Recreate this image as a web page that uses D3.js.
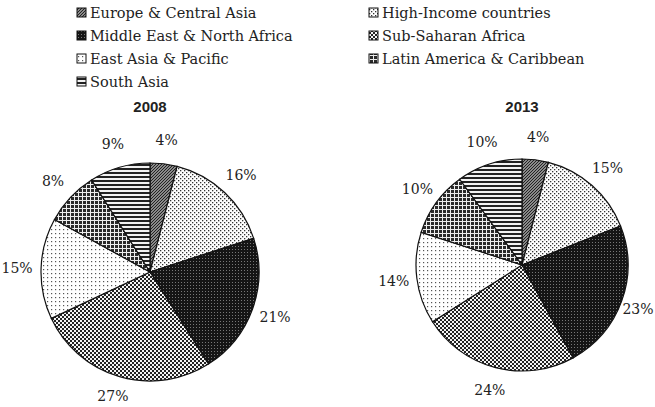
<!DOCTYPE html>
<html>
<head>
<meta charset="utf-8">
<script src="https://cdn.jsdelivr.net/npm/d3@7"></script>
<style>
  body { margin: 0; background: #fff; }
  svg { display: block; }
</style>
</head>
<body>
<script>
// regions in clockwise order from 12 o'clock (same order as the legend, row by row)
var regions = ["Europe & Central Asia", "High-Income countries", "Middle East & North Africa",
               "Sub-Saharan Africa", "East Asia & Pacific", "Latin America & Caribbean", "South Asia"];
var values2008 = [4, 16, 21, 27, 15, 8, 9];
var values2013 = [4, 15, 23, 24, 14, 10, 10];
var years = ["2008", "2013"];

var width = 655;
var height = 407;

var svg = d3.select("body")
            .append("svg")
            .attr("width", width)
            .attr("height", height);

var defs = svg.append("defs");

// builds a small tiled pattern for every region
function makePattern(id, size, bg, draw) {
  var p = defs.append("pattern")
              .attr("id", id)
              .attr("patternUnits", "userSpaceOnUse")
              .attr("width", size[0])
              .attr("height", size[1]);
  p.append("rect")
   .attr("width", size[0])
   .attr("height", size[1])
   .attr("fill", bg);
  draw(p);
}

var patternIds = ["p0", "p1", "p2", "p3", "p4", "p5", "p6"];

// europe: dense diagonal hatch
makePattern("p0", [3, 3], "#8a8a8a", function(p) {
  p.append("path").attr("d", "M0,3 L3,0").attr("stroke", "#222").attr("stroke-width", 1);
});
// high-income: fine dots
makePattern("p1", [4, 4], "#fff", function(p) {
  p.append("rect").attr("x", 0).attr("y", 0).attr("width", 1.3).attr("height", 1.3).attr("fill", "#333");
  p.append("rect").attr("x", 2).attr("y", 2).attr("width", 1.3).attr("height", 1.3).attr("fill", "#333");
});
// middle east: near black with grey dots
makePattern("p2", [3, 3], "#151515", function(p) {
  p.append("rect").attr("x", 1).attr("y", 1).attr("width", 1).attr("height", 1).attr("fill", "#777");
});
// sub-saharan: checkerboard
makePattern("p3", [4, 4], "#f4f4f4", function(p) {
  p.append("rect").attr("x", 0).attr("y", 0).attr("width", 2).attr("height", 2).attr("fill", "#222");
  p.append("rect").attr("x", 2).attr("y", 2).attr("width", 2).attr("height", 2).attr("fill", "#222");
});
// east asia: sparse dots
makePattern("p4", [4, 4], "#fff", function(p) {
  p.append("rect").attr("x", 1).attr("y", 1).attr("width", 1.2).attr("height", 1.2).attr("fill", "#555");
});
// latin america: white grid on dark
makePattern("p5", [4, 4], "#2a2a2a", function(p) {
  p.append("rect").attr("x", 0).attr("y", 0).attr("width", 4).attr("height", 1).attr("fill", "#eee");
  p.append("rect").attr("x", 0).attr("y", 0).attr("width", 1).attr("height", 4).attr("fill", "#eee");
});
// south asia: horizontal stripes
makePattern("p6", [4, 4], "#f2f2f2", function(p) {
  p.append("rect").attr("x", 0).attr("y", 0).attr("width", 4).attr("height", 2).attr("fill", "#222");
});

var fill = d3.scaleOrdinal()
             .domain(regions)
             .range(patternIds.map(function(id) { return "url(#" + id + ")"; }));

// legend in two columns, row by row
var legendX = d3.scaleOrdinal().domain([0, 1]).range([77, 369]);
var legendY = d3.scaleLinear().domain([0, 3]).range([13, 82]);

var legend = svg.selectAll("g.legend")
                .data(regions)
                .enter()
                .append("g")
                .attr("class", "legend")
                .attr("transform", function(d, i) {
                  return "translate(" + legendX(i % 2) + "," + legendY(Math.floor(i / 2)) + ")";
                });

legend.append("rect")
      .attr("x", 0)
      .attr("y", -5)
      .attr("width", 9)
      .attr("height", 9)
      .attr("fill", function(d) { return fill(d); })
      .attr("stroke", "#111")
      .attr("stroke-width", 1);

legend.append("text")
      .attr("x", 13)
      .attr("y", 0)
      .attr("dy", "0.35em")
      .style("font-family", "DejaVu Serif")
      .style("font-size", "14.5px")
      .style("fill", "#222")
      .text(function(d) { return d; });

// the two pies
var pies = [
  { year: years[0], values: values2008, cx: 150, cy: 272, r: 109 },
  { year: years[1], values: values2013, cx: 522, cy: 265, r: 106 }
];

var pie = d3.pie()
            .value(function(d) { return d.value; })
            .sort(null);

pies.forEach(function(p) {
  var g = svg.append("g")
             .attr("transform", "translate(" + p.cx + "," + p.cy + ")");

  var data = regions.map(function(name, i) {
    return { name: name, value: p.values[i] };
  });

  var arc = d3.arc().innerRadius(0).outerRadius(p.r);
  var labelArc = d3.arc().innerRadius(p.r * 1.22).outerRadius(p.r * 1.22);

  g.selectAll("path")
   .data(pie(data))
   .enter()
   .append("path")
   .attr("d", arc)
   .attr("fill", function(d) { return fill(d.data.name); })
   .attr("stroke", "#111")
   .attr("stroke-width", 1.2);

  g.selectAll("text.pct")
   .data(pie(data))
   .enter()
   .append("text")
   .attr("class", "pct")
   .attr("transform", function(d) {
     // keeps the labels inside the picture
     var c = labelArc.centroid(d);
     var x = Math.min(c[0], width - p.cx - 17);
     var y = Math.min(c[1], height - p.cy - 11);
     return "translate(" + x + "," + y + ")";
   })
   .attr("text-anchor", "middle")
   .attr("dy", "0.35em")
   .style("font-family", "DejaVu Serif")
   .style("font-size", "14px")
   .style("fill", "#222")
   .text(function(d) { return d.data.value + "%"; });

  // title above the pie
  svg.append("text")
     .attr("x", p.cx)
     .attr("y", 112)
     .attr("text-anchor", "middle")
     .style("font-family", "Liberation Sans")
     .style("font-weight", "bold")
     .style("font-size", "15px")
     .style("fill", "#222")
     .text(p.year);
});
</script>
</body>
</html>
